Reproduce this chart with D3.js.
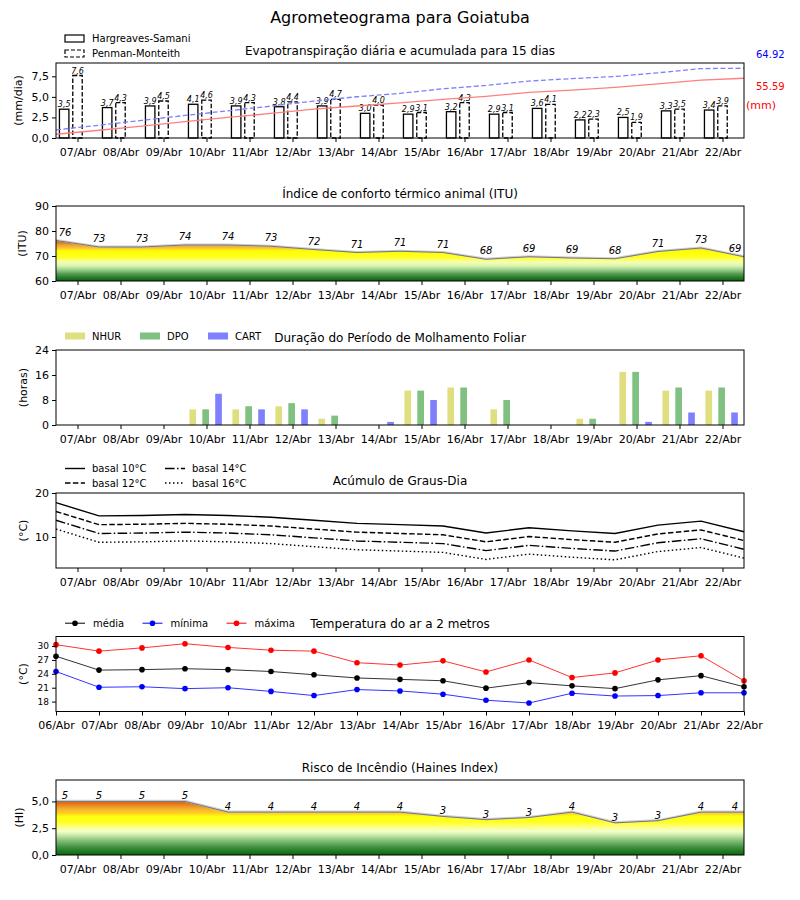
<!DOCTYPE html>
<html>
<head>
<meta charset="utf-8">
<script src="https://cdn.jsdelivr.net/npm/d3@7"></script>
<style>
  body { margin: 0; background: #fff; }
  svg { font-family: "DejaVu Sans", sans-serif; }
</style>
</head>
<body>
<svg id="agro" width="800" height="900"></svg>
<script>
// ---- data ----
const dayLabels = ["07/Abr", "08/Abr", "09/Abr", "10/Abr", "11/Abr", "12/Abr", "13/Abr", "14/Abr",
                   "15/Abr", "16/Abr", "17/Abr", "18/Abr", "19/Abr", "20/Abr", "21/Abr", "22/Abr"];
const boundaryLabels = ["06/Abr", "07/Abr", "08/Abr", "09/Abr", "10/Abr", "11/Abr", "12/Abr", "13/Abr", "14/Abr",
                        "15/Abr", "16/Abr", "17/Abr", "18/Abr", "19/Abr", "20/Abr", "21/Abr", "22/Abr"];

// evapotranspiration (mm/dia) and accumulated (mm)
const etHargreaves = [3.5, 3.7, 3.9, 4.1, 3.9, 3.8, 3.9, 3.0, 2.9, 3.2, 2.9, 3.6, 2.2, 2.5, 3.3, 3.4];
const etPenman = [7.6, 4.3, 4.5, 4.6, 4.3, 4.4, 4.7, 4.0, 3.1, 4.3, 3.1, 4.1, 2.3, 1.9, 3.5, 3.9];
const accHargreaves = [3.5, 7.2, 11.1, 15.2, 19.1, 22.9, 26.8, 29.8, 32.7, 35.9, 38.8, 42.4, 44.6, 47.1, 50.4, 53.8, 55.59];
const accPenman = [7.6, 11.9, 16.4, 21.0, 25.3, 29.7, 34.4, 38.4, 41.5, 45.8, 48.9, 53.0, 55.3, 57.2, 60.7, 64.6, 64.92];

// thermal comfort index
const itu = [76.2, 73.6, 73.6, 74.4, 74.4, 73.9, 72.6, 71.4, 71.9, 71.4, 68.7, 69.7, 69.2, 68.9, 71.8, 73.2, 69.7];

// leaf wetness duration (horas)
const wetNhur = [0, 0, 0, 5, 5, 6, 2, 0, 11, 12, 5, 0, 2, 17, 11, 11];
const wetDpo = [0, 0, 0, 5, 6, 7, 3, 0, 11, 12, 8, 0, 2, 17, 12, 12];
const wetCart = [0, 0, 0, 10, 5, 5, 0, 1, 8, 0, 0, 0, 0, 1, 4, 4];

// degree days
const gdBasal10 = [17.8, 14.8, 14.9, 15.1, 14.9, 14.5, 13.8, 13.1, 12.8, 12.5, 10.9, 12.1, 11.4, 10.8, 12.7, 13.6, 11.2];
const gdBasal12 = [15.8, 12.8, 12.9, 13.1, 12.9, 12.5, 11.8, 11.1, 10.8, 10.5, 8.9, 10.1, 9.4, 8.8, 10.7, 11.6, 9.2];
const gdBasal14 = [13.8, 10.8, 10.9, 11.1, 10.9, 10.5, 9.8, 9.1, 8.8, 8.5, 6.9, 8.1, 7.4, 6.8, 8.7, 9.6, 7.2];
const gdBasal16 = [11.8, 8.8, 8.9, 9.1, 8.9, 8.5, 7.8, 7.1, 6.8, 6.5, 4.9, 6.1, 5.4, 4.8, 6.7, 7.6, 5.2];

// air temperature at 2 m
const tempMedia = [27.8, 24.8, 24.9, 25.1, 24.9, 24.5, 23.8, 23.1, 22.8, 22.5, 20.9, 22.1, 21.4, 20.8, 22.7, 23.6, 21.2];
const tempMin = [24.5, 21.1, 21.2, 20.8, 21.0, 20.2, 19.3, 20.6, 20.3, 19.6, 18.3, 17.7, 19.8, 19.2, 19.3, 19.9, 19.9];
const tempMax = [30.3, 28.9, 29.6, 30.5, 29.7, 29.1, 28.9, 26.4, 25.9, 26.8, 24.4, 27.0, 23.2, 24.2, 27.0, 27.9, 22.5];

// fire risk (Haines index)
const haines = [5.0, 5.0, 5.0, 5.0, 4.0, 4.0, 4.0, 4.0, 4.0, 3.6, 3.3, 3.5, 4.0, 3.0, 3.2, 4.0, 4.0];

// ---- layout ----
const plotLeft = 56, plotWidth = 688, plotHeight = 75;
const svg = d3.select("#agro");
const ptBR = d3.formatLocale({decimal: ",", thousands: ".", grouping: [3], currency: ["R$", ""]});
const fmt1 = ptBR.format(".1f");

const x = d3.scaleLinear().domain([0, 16]).range([0, plotWidth]);
const dayTicks = d3.range(16).map(i => i + 0.5);
const boundaryTicks = d3.range(17);

svg.append("text")
    .attr("x", 400).attr("y", 23)
    .attr("text-anchor", "middle")
    .attr("font-size", "16px")
    .text("Agrometeograma para Goiatuba");

function addPanel(top, title) {
    const g = svg.append("g").attr("transform", `translate(${plotLeft},${top})`);
    g.append("text")
        .attr("x", plotWidth / 2).attr("y", -8.5)
        .attr("text-anchor", "middle")
        .attr("font-size", "12px")
        .text(title);
    return g;
}

function addFrame(g) {
    g.append("rect")
        .attr("width", plotWidth).attr("height", plotHeight)
        .attr("fill", "none").attr("stroke", "black").attr("stroke-width", 1);
}

function addXAxis(g, ticks, labels) {
    const ax = g.append("g")
        .attr("transform", `translate(0,${plotHeight})`)
        .call(d3.axisBottom(x).tickValues(ticks).tickSize(4).tickPadding(6)
            .tickFormat((d, i) => labels[i]));
    ax.select(".domain").remove();
    ax.selectAll("text").attr("font-size", "11px").attr("font-family", "DejaVu Sans").attr("fill", "black");
}

function addYAxis(g, y, ticks, format, size = 11) {
    const ax = g.append("g")
        .call(d3.axisLeft(y).tickValues(ticks).tickSize(4).tickPadding(3).tickFormat(format));
    ax.select(".domain").remove();
    ax.selectAll("text").attr("font-size", size + "px").attr("font-family", "DejaVu Sans").attr("fill", "black");
}

function addYLabel(g, label, cx) {
    g.append("text")
        .attr("transform", `translate(${cx - plotLeft},${plotHeight / 2}) rotate(-90)`)
        .attr("text-anchor", "middle")
        .attr("dy", "0.35em")
        .attr("font-size", "11px")
        .text(label);
}

function addGradient(id, y, stops) {
    const grad = svg.append("defs").append("linearGradient")
        .attr("id", id)
        .attr("gradientUnits", "userSpaceOnUse")
        .attr("x1", 0).attr("x2", 0)
        .attr("y1", y.range()[0]).attr("y2", y.range()[1]);
    const [lo, hi] = y.domain();
    stops.forEach(s => {
        grad.append("stop")
            .attr("offset", Math.max(0, Math.min(1, (s[0] - lo) / (hi - lo))))
            .attr("stop-color", s[1]);
    });
}

// index panel: coloured area under a grey line with truncated value labels
function drawIndexPanel(g, values, y, gradId, labelSize, labelLift) {
    g.append("path")
        .datum(values)
        .attr("fill", `url(#${gradId})`)
        .attr("d", d3.area().x((d, i) => x(i)).y0(plotHeight).y1(d => y(d)));
    g.append("path")
        .datum(values)
        .attr("fill", "none").attr("stroke", "#cfcfcf").attr("stroke-width", 2.2)
        .attr("d", d3.line().x((d, i) => x(i)).y(d => y(d) - 0.5));
    g.append("path")
        .datum(values)
        .attr("fill", "none").attr("stroke", "#777777").attr("stroke-width", 1)
        .attr("d", d3.line().x((d, i) => x(i)).y(d => y(d)));
    g.selectAll(".lbl")
        .data(values)
        .join("text")
        .attr("x", (d, i) => x(i) + (i === 0 ? 9 : i === values.length - 1 ? -9 : 0))
        .attr("y", d => y(d) - labelLift)
        .attr("text-anchor", "middle")
        .attr("font-size", labelSize + "px")
        .attr("font-style", "italic")
        .text(d => Math.floor(d));
}

// ---- 1. Evapotranspiração ----
const g1 = addPanel(63, "Evapotranspiração diária e acumulada para 15 dias");
const yEt = d3.scaleLinear().domain([0, 9.12]).range([plotHeight, 0]);
const yAcc = d3.scaleLinear().domain([0, 69.8]).range([plotHeight, 0]);
const etBarW = x(0.22) - x(0);

g1.selectAll(".hs")
    .data(etHargreaves)
    .join("rect")
    .attr("x", (d, i) => x(i + 0.5 - 0.31) - etBarW / 2)
    .attr("y", d => yEt(d))
    .attr("width", etBarW)
    .attr("height", d => plotHeight - yEt(d))
    .attr("fill", "white").attr("stroke", "black").attr("stroke-width", 1.3);

g1.selectAll(".pm")
    .data(etPenman)
    .join("rect")
    .attr("x", (d, i) => x(i + 0.5) - etBarW / 2)
    .attr("y", d => yEt(d))
    .attr("width", etBarW)
    .attr("height", d => plotHeight - yEt(d))
    .attr("fill", "white").attr("stroke", "black").attr("stroke-width", 1.3)
    .attr("stroke-dasharray", "4.5,2");

g1.selectAll(".hsLbl")
    .data(etHargreaves)
    .join("text")
    .attr("x", (d, i) => x(i + 0.5 - 0.31))
    .attr("y", d => yEt(d) - 2)
    .attr("text-anchor", "middle").attr("font-size", "8px").attr("font-style", "italic")
    .text(d => fmt1(d));

g1.selectAll(".pmLbl")
    .data(etPenman)
    .join("text")
    .attr("x", (d, i) => x(i + 0.5))
    .attr("y", d => yEt(d) - 2)
    .attr("text-anchor", "middle").attr("font-size", "8px").attr("font-style", "italic")
    .text(d => fmt1(d));

// accumulated lines (secondary scale)
g1.append("path")
    .datum(accHargreaves)
    .attr("fill", "none").attr("stroke", "#ff7f7f").attr("stroke-width", 1.3)
    .attr("d", d3.line().x((d, i) => x(i)).y(d => yAcc(d)));
g1.append("path")
    .datum(accPenman)
    .attr("fill", "none").attr("stroke", "#7f7fff").attr("stroke-width", 1.3)
    .attr("stroke-dasharray", "5,2.5")
    .attr("d", d3.line().x((d, i) => x(i)).y(d => yAcc(d)));

g1.append("text").attr("x", 700).attr("y", -5).attr("font-size", "10px").attr("fill", "blue")
    .text(accPenman[accPenman.length - 1].toFixed(2));
g1.append("text").attr("x", 700).attr("y", 27).attr("font-size", "10px").attr("fill", "red")
    .text(accHargreaves[accHargreaves.length - 1].toFixed(2));
g1.append("text").attr("x", 690).attr("y", 45.5).attr("font-size", "11px").attr("fill", "red")
    .text("(mm)");

addFrame(g1);
addXAxis(g1, dayTicks, dayLabels);
addYAxis(g1, yEt, [0, 2.5, 5, 7.5], fmt1);
addYLabel(g1, "(mm/dia)", 18);

// legend
const etLegend = [{label: "Hargreaves-Samani", dash: null}, {label: "Penman-Monteith", dash: "4,2"}];
etLegend.forEach((d, i) => {
    g1.append("rect")
        .attr("x", 9).attr("y", -28 + i * 15).attr("width", 19).attr("height", 7)
        .attr("fill", "white").attr("stroke", "black").attr("stroke-width", 1.2)
        .attr("stroke-dasharray", d.dash);
    g1.append("text")
        .attr("x", 36).attr("y", -21 + i * 15)
        .attr("font-size", "10px")
        .text(d.label);
});

// ---- 2. ITU ----
const g2 = addPanel(206, "Índice de conforto térmico animal (ITU)");
const yItu = d3.scaleLinear().domain([60, 90]).range([plotHeight, 0]);
addGradient("ituGrad", yItu, [
    [60, "#0a640a"], [61.5, "#2a7d2a"], [63, "#5aa05a"], [64.5, "#9cd08c"], [66, "#d8f4b0"],
    [67.5, "#f4ffb0"], [68.5, "#fcff70"], [69.5, "#ffff20"], [72, "#ffff00"], [72.6, "#ffe020"],
    [73.5, "#f5b838"], [74.5, "#eca030"], [75.3, "#e07818"], [76.5, "#d06010"]
]);
drawIndexPanel(g2, itu, yItu, "ituGrad", 10, 5);
addFrame(g2);
addXAxis(g2, dayTicks, dayLabels);
addYAxis(g2, yItu, [60, 70, 80, 90], d3.format("d"));
addYLabel(g2, "(ITU)", 22);

// ---- 3. Molhamento foliar ----
const g3 = addPanel(350, "Duração do Período de Molhamento Foliar");
const yWet = d3.scaleLinear().domain([0, 24]).range([plotHeight, 0]);
const wetBarW = x(0.155) - x(0);
const wetSeries = [
    {label: "NHUR", values: wetNhur, color: "#dfdf80", offset: -0.32},
    {label: "DPO", values: wetDpo, color: "#80c080", offset: -0.02},
    {label: "CART", values: wetCart, color: "#8080ff", offset: 0.28}
];
wetSeries.forEach(s => {
    g3.selectAll(null)
        .data(s.values)
        .join("rect")
        .attr("x", (d, i) => x(i + 0.5 + s.offset) - wetBarW / 2)
        .attr("y", d => yWet(d))
        .attr("width", wetBarW)
        .attr("height", d => plotHeight - yWet(d))
        .attr("fill", s.color);
});
addFrame(g3);
addXAxis(g3, dayTicks, dayLabels);
addYAxis(g3, yWet, [0, 8, 16, 24], d3.format("d"));
addYLabel(g3, "(horas)", 23.5);

const wetLegendX = [9, 84, 152];
wetSeries.forEach((s, i) => {
    g3.append("rect")
        .attr("x", wetLegendX[i]).attr("y", -17.5).attr("width", 20).attr("height", 7)
        .attr("fill", s.color);
    g3.append("text")
        .attr("x", wetLegendX[i] + 27).attr("y", -10.5)
        .attr("font-size", "10px")
        .text(s.label);
});

// ---- 4. Graus-dia ----
const g4 = addPanel(493, "Acúmulo de Graus-Dia");
const yGd = d3.scaleLinear().domain([2.95, 20]).range([plotHeight, 0]);
const gdSeries = [
    {label: "basal 10°C", values: gdBasal10, dash: null},
    {label: "basal 12°C", values: gdBasal12, dash: "5.5,2.4"},
    {label: "basal 14°C", values: gdBasal14, dash: "9.6,2.4,1.5,2.4"},
    {label: "basal 16°C", values: gdBasal16, dash: "1.5,2.5"}
];
gdSeries.forEach(s => {
    g4.append("path")
        .datum(s.values)
        .attr("fill", "none").attr("stroke", "black").attr("stroke-width", 1.4)
        .attr("stroke-dasharray", s.dash)
        .attr("d", d3.line().x((d, i) => x(i)).y(d => yGd(d)));
});
addFrame(g4);
addXAxis(g4, dayTicks, dayLabels);
addYAxis(g4, yGd, [10, 20], d3.format("d"));
addYLabel(g4, "(°C)", 23.5);

gdSeries.forEach((s, i) => {
    const lx = i < 2 ? 9 : 109, ly = -24.5 + (i % 2) * 14.5;
    g4.append("line")
        .attr("x1", lx).attr("x2", lx + 20).attr("y1", ly).attr("y2", ly)
        .attr("stroke", "black").attr("stroke-width", 1.4).attr("stroke-dasharray", s.dash);
    g4.append("text")
        .attr("x", lx + 27).attr("y", ly + 3.5)
        .attr("font-size", "10px")
        .text(s.label);
});

// ---- 5. Temperatura ----
const g5 = addPanel(636.5, "Temperatura do ar a 2 metros");
const yTemp = d3.scaleLinear().domain([15.86, 32.06]).range([plotHeight, 0]);
const tempSeries = [
    {label: "média", values: tempMedia, color: "black"},
    {label: "mínima", values: tempMin, color: "blue"},
    {label: "máxima", values: tempMax, color: "red"}
];
tempSeries.forEach(s => {
    g5.append("path")
        .datum(s.values)
        .attr("fill", "none").attr("stroke", s.color).attr("stroke-width", 1).attr("stroke-opacity", 0.8)
        .attr("d", d3.line().x((d, i) => x(i)).y(d => yTemp(d)));
    g5.selectAll(null)
        .data(s.values)
        .join("circle")
        .attr("cx", (d, i) => x(i))
        .attr("cy", d => yTemp(d))
        .attr("r", 2.8)
        .attr("fill", s.color);
});
addFrame(g5);
addXAxis(g5, boundaryTicks, boundaryLabels);
addYAxis(g5, yTemp, [18, 21, 24, 27, 30], d3.format("d"), 9);
addYLabel(g5, "(°C)", 23.5);

const tempLegendX = [9, 86.5, 170.5];
tempSeries.forEach((s, i) => {
    const lx = tempLegendX[i];
    g5.append("line")
        .attr("x1", lx).attr("x2", lx + 20).attr("y1", -13.3).attr("y2", -13.3)
        .attr("stroke", s.color).attr("stroke-width", 1);
    g5.append("circle")
        .attr("cx", lx + 10).attr("cy", -13.3).attr("r", 2.8).attr("fill", s.color);
    g5.append("text")
        .attr("x", lx + 28).attr("y", -9.8)
        .attr("font-size", "10px")
        .text(s.label);
});

// ---- 6. Haines ----
const g6 = addPanel(780, "Risco de Incêndio (Haines Index)");
const yHi = d3.scaleLinear().domain([0, 7]).range([plotHeight, 0]);
addGradient("hiGrad", yHi, [
    [0, "#0a640a"], [0.7, "#3d8f3d"], [1.3, "#7fbb77"], [1.8, "#c4e6a4"], [2.2, "#f2ffd0"],
    [2.7, "#ffff70"], [3.1, "#ffff20"], [3.6, "#ffff10"], [3.9, "#ffd020"], [4.3, "#f5b030"],
    [4.7, "#e88020"], [5.0, "#d86010"]
]);
drawIndexPanel(g6, haines, yHi, "hiGrad", 10, 2);
addFrame(g6);
addXAxis(g6, dayTicks, dayLabels);
addYAxis(g6, yHi, [0, 2.5, 5], fmt1);
addYLabel(g6, "(HI)", 19);
</script>
</body>
</html>
